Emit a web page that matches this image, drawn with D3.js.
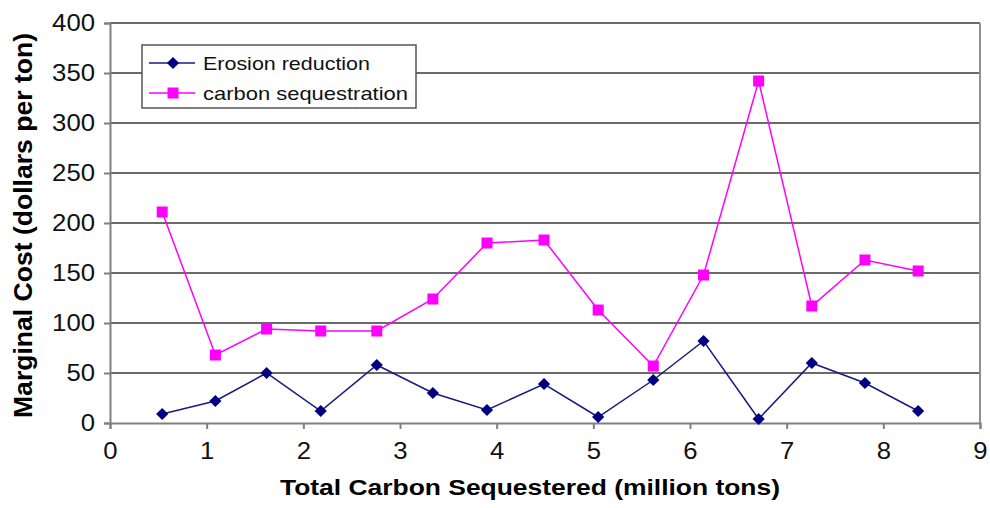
<!DOCTYPE html>
<html>
<head>
<meta charset="utf-8">
<script src="https://cdn.jsdelivr.net/npm/d3@7"></script>
<style>
  body { margin: 0; background: #fff; }
  text { font-family: "Liberation Sans", Arial, sans-serif; }
</style>
</head>
<body>
<div id="chart-area"></div>
<script>
// data
let xVals = [0.54, 1.09, 1.62, 2.18, 2.76, 3.34, 3.90, 4.49, 5.05, 5.62, 6.14, 6.71, 7.26, 7.81, 8.36];
let erosion = [9, 22, 50, 12, 58, 30, 13, 39, 6, 43, 82, 4, 60, 40, 12];
let carbon = [211, 68, 94, 92, 92, 124, 180, 183, 113, 57, 148, 342, 117, 163, 152];
let xTicks = [0, 1, 2, 3, 4, 5, 6, 7, 8, 9];
let yTicks = [0, 50, 100, 150, 200, 250, 300, 350, 400];
let seriesNames = ["Erosion reduction", "carbon sequestration"];

let margin = {top: 23, right: 10, bottom: 85, left: 110};
let width = 980 - margin.left,
    height = 508 - margin.top - margin.bottom;

let svg = d3.select("#chart-area").append("svg")
    .attr("width", 990)
    .attr("height", 508)
  .append("g")
    .attr("transform", "translate(" + margin.left + "," + margin.top + ")");

let x = d3.scaleLinear().domain([0, 9]).range([0, width]);
let y = d3.scaleLinear().domain([0, 400]).range([height, 0]);

// gridlines
svg.selectAll(".grid")
  .data(yTicks.filter(d => d > 0))
  .enter().append("line")
  .attr("class", "grid")
  .attr("x1", 0).attr("x2", width)
  .attr("y1", d => y(d)).attr("y2", d => y(d))
  .attr("stroke", "#6a6a6a")
  .attr("stroke-width", 2);

// right border
svg.append("line")
  .attr("x1", width).attr("x2", width)
  .attr("y1", 0).attr("y2", height)
  .attr("stroke", "#909090").attr("stroke-width", 2);

// axes
let yAxis = d3.axisLeft(y).tickValues(yTicks).tickSize(6).tickPadding(9);
let xAxis = d3.axisBottom(x).tickValues(xTicks).tickSize(6).tickPadding(14);

let yAxisG = svg.append("g").attr("class", "y-axis").call(yAxis);
let xAxisG = svg.append("g").attr("class", "x-axis")
  .attr("transform", "translate(0," + height + ")")
  .call(xAxis);

svg.selectAll(".y-axis path, .x-axis path, .y-axis line, .x-axis line")
  .attr("stroke", "#808080").attr("stroke-width", 2);
svg.selectAll(".y-axis text, .x-axis text")
  .attr("font-size", 23).attr("fill", "#111")
  .style("font-family", "'Liberation Sans', Arial, sans-serif")
  .attr("textLength", function() { return this.textContent.length * 14.3; })
  .attr("lengthAdjust", "spacingAndGlyphs");

// axis titles
svg.append("text")
  .attr("transform", "rotate(-90)")
  .attr("x", -(225.5 - margin.top))
  .attr("y", 32 - margin.left)
  .attr("text-anchor", "middle")
  .attr("font-size", 25).attr("font-weight", "bold")
  .attr("textLength", 385).attr("lengthAdjust", "spacingAndGlyphs")
  .text("Marginal Cost (dollars per ton)");

svg.append("text")
  .attr("x", 530 - margin.left)
  .attr("y", 495 - margin.top)
  .attr("text-anchor", "middle")
  .attr("font-size", 22).attr("font-weight", "bold")
  .attr("textLength", 500).attr("lengthAdjust", "spacingAndGlyphs")
  .text("Total Carbon Sequestered (million tons)");

// lines
let line = d3.line().x(d => x(d[0])).y(d => y(d[1]));
let eroData = xVals.map((v, i) => [v, erosion[i]]);
let carData = xVals.map((v, i) => [v, carbon[i]]);

svg.append("path").datum(carData)
  .attr("d", line).attr("fill", "none")
  .attr("stroke", "#ff00ff").attr("stroke-width", 1.5);
svg.append("path").datum(eroData)
  .attr("d", line).attr("fill", "none")
  .attr("stroke", "#1a1a80").attr("stroke-width", 1.5);

let diamond = d3.symbol().type(d3.symbolDiamond2).size(95);

svg.selectAll(".sq")
  .data(carData).enter().append("rect")
  .attr("class", "sq")
  .attr("x", d => x(d[0]) - 5.5).attr("y", d => y(d[1]) - 5.5)
  .attr("width", 11).attr("height", 11)
  .attr("fill", "#ff00ff");

svg.selectAll(".dm")
  .data(eroData).enter().append("path")
  .attr("class", "dm")
  .attr("d", diamond)
  .attr("transform", d => "translate(" + x(d[0]) + "," + y(d[1]) + ")")
  .attr("fill", "#000080");

// legend
let leg = svg.append("g").attr("transform", "translate(32,22)");
leg.append("rect")
  .attr("width", 274).attr("height", 63)
  .attr("fill", "#fff").attr("stroke", "#555").attr("stroke-width", 1.5);

let legColors = ["#1a1a80", "#ff00ff"];
let legWidths = [167, 205];
seriesNames.forEach(function(name, i) {
  let g = leg.append("g").attr("transform", "translate(0," + (18 + i * 30) + ")");
  g.append("line").attr("x1", 7).attr("x2", 53).attr("y1", 0).attr("y2", 0)
    .attr("stroke", legColors[i]).attr("stroke-width", 1.5);
  if (i == 0) {
    g.append("path").attr("d", diamond).attr("transform", "translate(31,0)").attr("fill", "#000080");
  } else {
    g.append("rect").attr("x", 25.5).attr("y", -5.5).attr("width", 11).attr("height", 11).attr("fill", "#ff00ff");
  }
  g.append("text").attr("x", 61).attr("y", 7).attr("font-size", 19).attr("fill", "#111")
    .attr("textLength", legWidths[i]).attr("lengthAdjust", "spacingAndGlyphs")
    .text(name);
});
</script>
</body>
</html>
